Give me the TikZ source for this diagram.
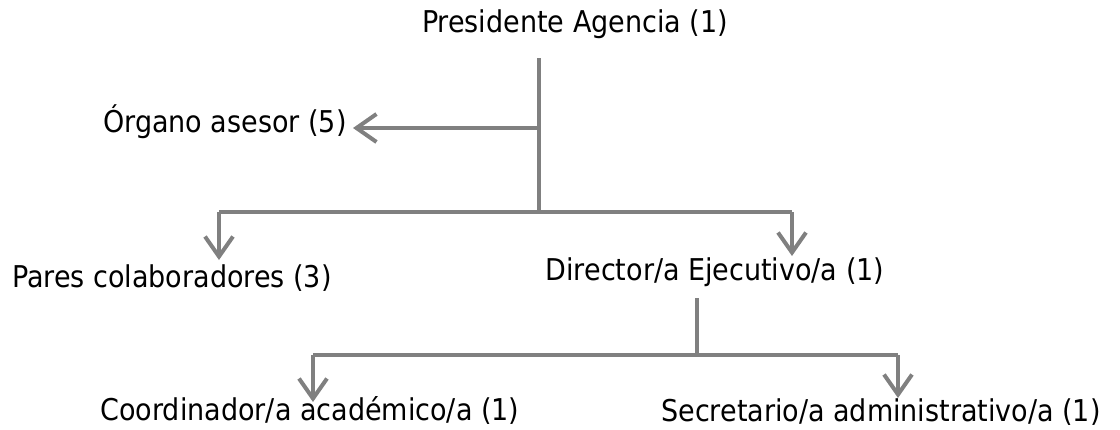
\documentclass[tikz,border=0pt]{standalone}
\usepackage{fontspec}
\setmainfont{DejaVu Sans Condensed}
\usetikzlibrary{arrows.meta}
\definecolor{linegray}{RGB}{128,128,128}
\tikzset{
  lbl/.style={inner sep=0pt, anchor=base, font=\fontsize{30}{34}\selectfont},
  conn/.style={draw=linegray, line width=4pt},
  arr/.style={conn, -{Straight Barb[length=20pt,width=28pt]}}
}
\begin{document}
\begin{tikzpicture}[x=1pt,y=-1pt]
\useasboundingbox (0,0) rectangle (1120,429);
\node[lbl] (pres) at (575,32){Presidente Agencia (1)};
\coordinate (top) at (539,58);
\coordinate (mid) at (539,128);
\coordinate (bus1) at (539,214);
\node[lbl] (org) at (225,132){Órgano asesor (5)};
\coordinate (orgtip) at (353,128);
\draw[conn](top) -- (bus1);
\draw[arr](mid) -- (orgtip);
\coordinate (b1l) at (219,212);
\coordinate (b1r) at (792,212);
\coordinate (b1lt) at (219,260);
\coordinate (b1rt) at (792,256);
\node[lbl] (pares) at (172,287){Pares colaboradores (3)};
\node[lbl] (dir) at (715,280){Director/a Ejecutivo/a (1)};
\draw[conn](b1l) -- (b1r);
\draw[arr](b1l) -- (b1lt);
\draw[arr](b1r) -- (b1rt);
\coordinate (dtop) at (697,298);
\coordinate (bus2) at (697,355);
\draw[conn](dtop) -- (bus2);
\coordinate (b2l) at (313,355);
\coordinate (b2r) at (898,355);
\coordinate (b2lt) at (313,402);
\coordinate (b2rt) at (898,398);
\node[lbl] (coord) at (310,420){Coordinador/a académico/a (1)};
\node[lbl] (secr) at (881,421){Secretario/a administrativo/a (1)};
\draw[conn](b2l) -- (b2r);
\draw[arr](b2l) -- (b2lt);
\draw[arr](b2r) -- (b2rt);
\end{tikzpicture}
\end{document}
